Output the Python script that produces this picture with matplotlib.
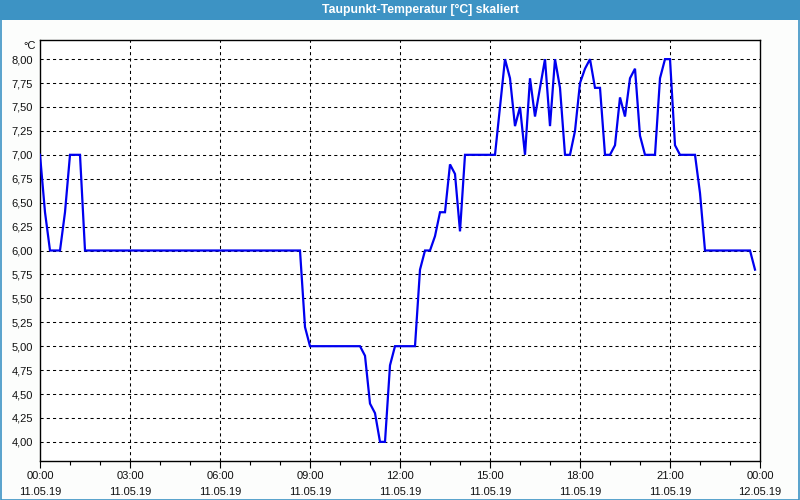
import matplotlib
matplotlib.use("Agg")
import matplotlib.pyplot as plt
from matplotlib.patches import Rectangle
from matplotlib.ticker import FixedLocator, MultipleLocator

# minutes since 11.05.19 00:00
minutes = [0, 10, 20, 40, 50, 60, 80, 90, 520, 530, 540, 640, 650, 660, 670, 680,
           690, 700, 710, 750, 760, 770, 780, 790, 800, 810, 820, 830, 840, 850,
           910, 920, 930, 940, 950, 960, 970, 980, 990, 1000, 1010, 1020, 1030,
           1040, 1050, 1060, 1070, 1080, 1090, 1100, 1110, 1120, 1130, 1140, 1150,
           1160, 1170, 1180, 1190, 1200, 1210, 1230, 1240, 1250, 1260, 1270, 1280,
           1310, 1320, 1330, 1420, 1430]
values = [7.0, 6.4, 6.0, 6.0, 6.4, 7.0, 7.0, 6.0, 6.0, 5.2, 5.0, 5.0, 4.9, 4.4, 4.3, 4.0,
          4.0, 4.8, 5.0, 5.0, 5.8, 6.0, 6.0, 6.15, 6.4, 6.4, 6.9, 6.8, 6.2, 7.0,
          7.0, 7.5, 8.0, 7.8, 7.3, 7.5, 7.0, 7.8, 7.4, 7.7, 8.0, 7.3, 8.0,
          7.7, 7.0, 7.0, 7.25, 7.75, 7.9, 8.0, 7.7, 7.7, 7.0, 7.0, 7.1,
          7.6, 7.4, 7.8, 7.9, 7.2, 7.0, 7.0, 7.8, 8.0, 8.0, 7.1, 7.0,
          7.0, 6.6, 6.0, 6.0, 5.8]

x_tick_times = ["00:00", "03:00", "06:00", "09:00", "12:00", "15:00", "18:00", "21:00", "00:00"]
x_tick_dates = ["11.05.19"] * 8 + ["12.05.19"]
y_ticks = [4.00, 4.25, 4.50, 4.75, 5.00, 5.25, 5.50, 5.75, 6.00, 6.25, 6.50, 6.75,
           7.00, 7.25, 7.50, 7.75, 8.00]
title = "Taupunkt-Temperatur [°C] skaliert"
unit = "°C"

plt.rcParams['font.family'] = ['Liberation Sans', 'DejaVu Sans']

fig = plt.figure(figsize=(8, 5), dpi=100)
fig.patch.set_facecolor('#fcfdfc')

# title bar
fig.patches.append(Rectangle((0, 1 - 20/500), 1, 20/500, transform=fig.transFigure,
                             facecolor='#3d93c4', edgecolor='none', zorder=0))
# outer border
fig.patches.append(Rectangle((0.5/800, 0.5/500), 1 - 1.5/800, 1 - 1.5/500, transform=fig.transFigure,
                             facecolor='none', edgecolor='#3d93c4', linewidth=1.2, zorder=1))
fig.text(420/800, 1 - 10/500, title, color='white', fontsize=8.8, fontweight='bold',
         ha='center', va='center')

ax = fig.add_axes([40/800, 39/500, 720/800, 421/500])
ax.set_facecolor('white')

hours = [m / 60 for m in minutes]
ax.plot(hours, values, color='#0000f0', linewidth=1.6, solid_joinstyle='miter', zorder=3)

ax.set_xlim(0, 24)
ax.set_ylim(3.8, 8.2)

ax.xaxis.set_major_locator(FixedLocator(list(range(0, 25, 3))))
ax.xaxis.set_minor_locator(MultipleLocator(1))
ax.set_xticklabels([f"{t}\n{d}" for t, d in zip(x_tick_times, x_tick_dates)])
ax.yaxis.set_major_locator(FixedLocator(y_ticks))
ax.set_yticklabels([f"{v:.2f}".replace('.', ',') for v in y_ticks])

ax.tick_params(axis='x', which='major', length=5, width=0.8, color='black',
               labelsize=8, pad=2, labelcolor='#101010')
ax.tick_params(axis='x', which='minor', length=3, width=0.8, color='black')
ax.tick_params(axis='y', which='major', length=0, labelsize=8, pad=5, labelcolor='#101010')
for lbl in ax.get_xticklabels():
    lbl.set_linespacing(1.75)

for s in ax.spines.values():
    s.set_color('black')
    s.set_linewidth(1.0)

for y in y_ticks:
    ax.axhline(y, color='black', linewidth=0.75, linestyle=(0, (3, 3)), zorder=1)
for xv in range(3, 24, 3):
    ax.axvline(xv, color='black', linewidth=0.75, linestyle=(0, (3, 3)), zorder=1)

fig.text(36/800, 1 - 46/500, unit, fontsize=8, ha='right', va='center', color='#101010')

fig.savefig('out.png', dpi=100, facecolor=fig.get_facecolor())
